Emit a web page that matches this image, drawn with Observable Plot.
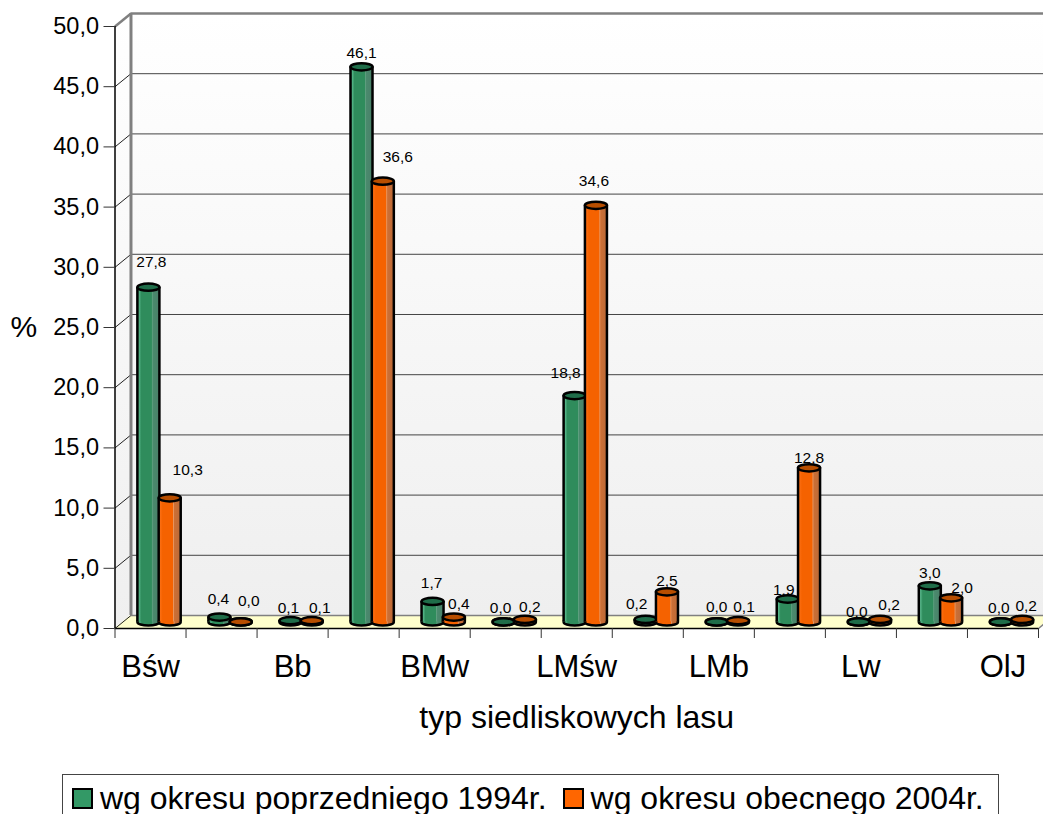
<!DOCTYPE html>
<html lang="pl">
<head>
<meta charset="utf-8">
<script src="https://cdn.jsdelivr.net/npm/d3@7"></script>
<script src="https://cdn.jsdelivr.net/npm/@observablehq/plot@0.6"></script>
<style>
html,body{margin:0;padding:0;background:#fff;overflow:hidden;height:814px}
svg{display:block}
#legend{box-sizing:border-box;margin-left:62px;width:937px;height:60px;border:1.5px solid #444;
 font:32px "Liberation Sans",Arial,sans-serif;color:#000;padding-left:9px;padding-top:11px;white-space:nowrap;display:flex;align-items:flex-start}
#legend .sw{display:inline-block;box-sizing:border-box;width:21px;height:21px;border:2.5px solid #000;margin-right:7px;margin-top:2px;flex:none}
#legend .item{display:flex;margin-right:16px;line-height:24px}
</style>
</head>
<body>
<div id="chart"></div>
<div id="legend"></div>
<script>
const categories = ["Bśw","","Bb","","BMw","","LMśw","","LMb","","Lw","","OlJ"];
const series = ["wg okresu poprzedniego 1994r.","wg okresu obecnego 2004r."];
const values1994 = [27.8,0.4,0.1,46.1,1.7,0.0,18.8,0.2,0.0,1.9,0.0,3.0,0.0];
const values2004 = [10.3,0.0,0.1,36.6,0.4,0.2,34.6,2.5,0.1,12.8,0.2,2.0,0.2];
const yTicks = [0,5,10,15,20,25,30,35,40,45,50];
const fmt = d3.format(".1f");
const comma = v => fmt(v).replace(".", ",");

// depth of the pseudo-3D box and cylinder placement, in scale units
const dX = 0.225, dY = 1.08, baseY = 0.55, hw = 0.155;
const offs = [0.47, 0.77];
const colors = ["#339966","#ff6600"];

const rows = s => (s === 0 ? values1994 : values2004).map((v,i) => ({i, v, cx: i + offs[s]}));

function defs() {
  const d = d3.create("svg:defs");
  const grad = (id, stops, horizontal) => {
    const g = d.append("linearGradient").attr("id", id)
      .attr("x1",0).attr("y1",0).attr("x2",horizontal?1:0).attr("y2",horizontal?0:1);
    stops.forEach(([o,c]) => g.append("stop").attr("offset",o).attr("stop-color",c));
  };
  grad("wall", [[0,"#ffffff"],[1,"#efefef"]], false);
  grad("cyl0", [[0,"#2b8a5c"],[.1,"#55b588"],[.2,"#2f8c5c"],[.66,"#2f8c5c"],[.7,"#5f9f80"],[.74,"#4a8a6d"],[1,"#4a8069"]], true);
  grad("cyl1", [[0,"#f06000"],[.1,"#fb6d10"],[.2,"#f56200"],[.66,"#f56200"],[.7,"#e69a68"],[.74,"#cc6f35"],[1,"#bb6a38"]], true);
  return d.node();
}

const ellipse = {draw(ctx, size) {
  const rx = Math.sqrt(size / Math.PI), ry = rx * 0.33, k = 0.5523;
  ctx.moveTo(-rx,0);
  ctx.bezierCurveTo(-rx,-ry*k,-rx*k,-ry,0,-ry);
  ctx.bezierCurveTo(rx*k,-ry,rx,-ry*k,rx,0);
  ctx.bezierCurveTo(rx,ry*k,rx*k,ry,0,ry);
  ctx.bezierCurveTo(-rx*k,ry,-rx,ry*k,-rx,0);
  ctx.closePath();
}};

function cylinders(s) {
  const data = rows(s);
  const top = ["#1f6d49","#b84e00"][s];
  const side = {y1: baseY, y2: d => baseY + d.v, stroke:"#000", strokeWidth:2.5};
  return [
    Plot.dot(data,{x:"cx",y:baseY,r:11,symbol:ellipse,fill:`url(#cyl${s})`,stroke:"#000",strokeWidth:2.5}),
    Plot.rect(data,{x1:d=>d.cx-hw,x2:d=>d.cx+hw,y1:baseY,y2:d=>baseY+d.v,fill:`url(#cyl${s})`}),
    Plot.ruleX(data,{x:d=>d.cx-hw,...side}),
    Plot.ruleX(data,{x:d=>d.cx+hw,...side}),
    Plot.dot(data,{x:"cx",y:d=>baseY+d.v,r:11,symbol:ellipse,fill:top,stroke:"#000",strokeWidth:2.5})
  ];
}

// one value label, nudged away from its cylinder as in the original
function lab(s, i, dx, dy) {
  const d = rows(s)[i];
  return Plot.text([d],{x:"cx",y:e=>baseY+e.v,text:e=>comma(e.v),dx,dy,fontSize:15.5,fill:"#000"});
}
const labelMarks = [
  lab(0,0,3,-25),lab(1,0,18,-28),lab(0,1,-1,-18),lab(1,1,8,-21),lab(0,2,-2,-13),lab(1,2,8,-13),
  lab(0,3,0,-14),lab(1,3,15,-24),lab(0,4,-1,-18),lab(1,4,5,-13),lab(0,5,-3,-14),lab(1,5,5,-12),
  lab(0,6,-9,-22),lab(1,6,-2,-24),lab(0,7,-9,-15),lab(1,7,0,-11),lab(0,8,0,-15),lab(1,8,6,-14),
  lab(0,9,-4,-9),lab(1,9,0,-10),lab(0,10,-2,-10),lab(1,10,9,-14),lab(0,11,0,-13),lab(1,11,11,-10),
  lab(0,12,-2,-14),lab(1,12,4,-13)
];

const xEnd = categories.length;
const xTickPos = categories.map((c,i)=>c?i+0.5:null).filter(v=>v!==null);

const chart = Plot.plot({
  width:1043, height:774,
  marginLeft:114.5, marginRight:5, marginTop:26, marginBottom:146,
  style:{fontFamily:'"Liberation Sans",Arial,sans-serif',background:"#fff",color:"#000"},
  x:{type:"linear",domain:[0,xEnd]},
  y:{type:"linear",domain:[0,50]},
  marks:[
    defs,
    // back wall, side wall, floor
    Plot.rect([0],{x1:dX,x2:xEnd+dX,y1:dY,y2:50+dY,fill:"url(#wall)"}),
    Plot.areaY([{x:0,a:0,b:50},{x:dX,a:dY,b:50+dY}],{x:"x",y1:"a",y2:"b",fill:"url(#wall)"}),
    Plot.areaY([{x:0,a:0,b:0},{x:dX,a:0,b:dY},{x:xEnd,a:0,b:dY},{x:xEnd+dX,a:dY,b:dY}],{x:"x",y1:"a",y2:"b",fill:"#ffffcc"}),
    // grid on the back wall and its returns on the side wall
    Plot.ruleY(yTicks.filter(t=>t>0&&t<50),{y:t=>t+dY,x1:dX,x2:xEnd+dX,stroke:"#444",strokeWidth:1}),
    Plot.link(yTicks.filter(t=>t<50),{x1:0,y1:t=>t,x2:dX,y2:t=>t+dY,stroke:"#222",strokeWidth:1}),
    // frame
    Plot.ruleY([50+dY],{x1:dX,x2:xEnd+dX,stroke:"#808080",strokeWidth:2.5}),
    Plot.ruleY([dY],{x1:dX,x2:xEnd+dX,stroke:"#808080",strokeWidth:1.5}),
    Plot.ruleX([dX],{y1:dY,y2:50+dY,stroke:"#808080",strokeWidth:3}),
    Plot.link([50],{x1:0,y1:t=>t,x2:dX,y2:t=>t+dY,stroke:"#808080",strokeWidth:2.5}),
    Plot.link([0],{x1:xEnd,y1:0,x2:xEnd+dX,y2:dY,stroke:"#808080",strokeWidth:1.5}),
    Plot.ruleX([0],{y1:0,y2:50,stroke:"#000",strokeWidth:1.5}),
    Plot.ruleY([0],{x1:0,x2:xEnd,stroke:"#000",strokeWidth:1.5}),
    // axes
    Plot.axisY({ticks:yTicks,tickFormat:comma,tickSize:11,tickPadding:5,fontSize:23.5,label:null,stroke:"#333"}),
    Plot.axisX({ticks:d3.range(xEnd+1),tickFormat:()=>"",tickSize:10,label:null,stroke:"#333"}),
    Plot.axisX({ticks:xTickPos,tickFormat:x=>categories[x-0.5],tickSize:0,tickPadding:26,fontSize:31,label:null}),
    Plot.text(["typ siedliskowych lasu"],{x:xEnd/2,frameAnchor:"bottom",dy:99,fontSize:32,text:d=>d,fill:"#000"}),
    Plot.text(["%"],{frameAnchor:"left",dx:-104.5,dy:0,fontSize:30,text:d=>d,fill:"#000"}),
    // cylinders
    ...cylinders(0),
    ...cylinders(1),
    ...labelMarks
  ]
});
document.getElementById("chart").append(chart);

const legend = d3.select("#legend");
series.forEach((name,i)=>{
  const it = legend.append("span").attr("class","item");
  it.append("span").attr("class","sw").style("background",colors[i]);
  it.append("span").text(name);
});
</script>
</body>
</html>
